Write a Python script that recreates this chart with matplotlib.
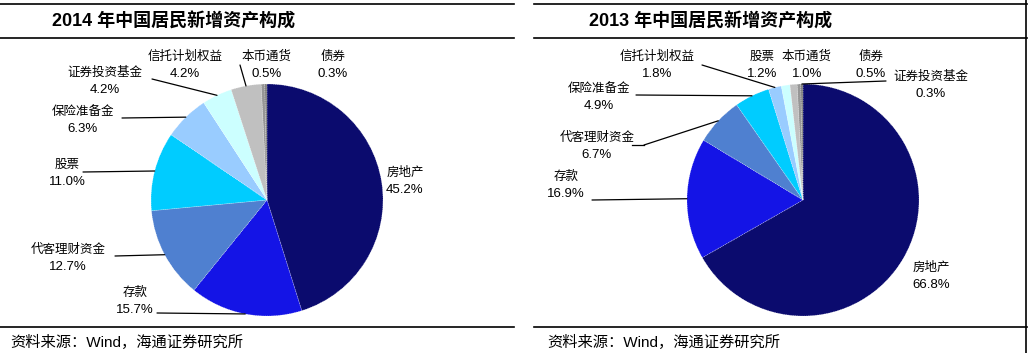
import numpy as np
import matplotlib
matplotlib.use("Agg")
import matplotlib.pyplot as plt
from matplotlib.lines import Line2D

plt.rcParams['font.family'] = ['Liberation Sans', 'Noto Sans CJK SC']

# ============================================================
# DATA
# ============================================================

names_2014 = ["房地产", "存款", "代客理财资金", "股票", "保险准备金",
              "证券投资基金", "信托计划权益", "本币通货", "债券"]
values_2014 = [45.2, 15.7, 12.7, 11.0, 6.3, 4.2, 4.2, 0.5, 0.3]

names_2013 = ["房地产", "存款", "代客理财资金", "保险准备金", "信托计划权益",
              "股票", "本币通货", "债券", "证券投资基金"]
values_2013 = [66.8, 16.9, 6.7, 4.9, 1.8, 1.2, 1.0, 0.5, 0.3]

titles = ["2014 年中国居民新增资产构成", "2013 年中国居民新增资产构成"]
source = "资料来源：Wind，海通证券研究所"

# ============================================================
# LAYOUT (pixels, origin top-left)
# ============================================================

W, H = 1028, 353
R = 116
colors = ["#0b0b6e", "#1414e6", "#4f80d0", "#00ccff", "#99ccff",
          "#ccffff", "#c0c0c0", "#969696", "#7f7f7f"]

label_pos_2014 = {
    "房地产": (405, 173), "存款": (135, 293), "代客理财资金": (68, 250),
    "股票": (67, 165), "保险准备金": (83, 112), "证券投资基金": (105, 73),
    "信托计划权益": (185, 57), "本币通货": (267, 57), "债券": (333, 57),
}
leader_2014 = {
    "证券投资基金": [(152, 79)], "保险准备金": [(122, 118)], "股票": [(83, 172)],
    "代客理财资金": [(115, 256)], "存款": [(157, 313)], "信托计划权益": [(240, 65)],
}

label_pos_2013 = {
    "房地产": (931, 268), "存款": (566, 177), "代客理财资金": (597, 138),
    "保险准备金": (599, 89), "信托计划权益": (657, 57), "股票": (762, 57),
    "本币通货": (807, 57), "债券": (871, 57), "证券投资基金": (931, 77),
}
leader_2013 = {
    "信托计划权益": [(702, 65)], "保险准备金": [(636, 95)],
    "代客理财资金": [(632, 145), (644, 145)], "存款": [(592, 200)],
    "证券投资基金": [(886, 81)],
}

panels = [
    dict(names=names_2014, values=values_2014, center=(267, 200),
         labels=label_pos_2014, leaders=leader_2014, x0=0, x1=514,
         title_x=52, src_x=10),
    dict(names=names_2013, values=values_2013, center=(803, 200),
         labels=label_pos_2013, leaders=leader_2013, x0=534, x1=1027,
         title_x=589, src_x=547),
]


def fx(x):
    return x / W


def fy(y):
    return 1 - y / H


fig = plt.figure(figsize=(W / 100, H / 100), dpi=100)

for i, p in enumerate(panels):
    cx, cy = p["center"]
    ax = fig.add_axes([fx(cx - R), fy(cy + R), 2 * R / W, 2 * R / H])
    wedges, _ = ax.pie(p["values"], colors=colors, startangle=90,
                       counterclock=False, radius=1,
                       wedgeprops=dict(edgecolor=(1, 1, 1, 0.6), linewidth=0.5,
                                       linestyle=":"))
    ax.set_xlim(-1, 1)
    ax.set_ylim(-1, 1)
    ax.set_aspect("auto")
    ax.axis("off")

    for name, val, w in zip(p["names"], p["values"], wedges):
        lx, ly = p["labels"][name]
        fig.text(fx(lx), fy(ly), name, ha="center", va="center", fontsize=9)
        fig.text(fx(lx), fy(ly + 17), f"{val:.1f}%", ha="center", va="center",
                 fontsize=9.5)
        if name in p["leaders"]:
            pts = p["leaders"][name]
            # leader ends on the wedge rim at its mid angle
            mid = np.deg2rad((w.theta1 + w.theta2) / 2)
            ax.annotate("", xy=(np.cos(mid), np.sin(mid)), xycoords="data",
                        xytext=(fx(pts[-1][0]), fy(pts[-1][1])),
                        textcoords="figure fraction",
                        arrowprops=dict(arrowstyle="-", color="black", lw=0.9,
                                        shrinkA=0, shrinkB=0))
            if len(pts) > 1:
                fig.add_artist(Line2D([fx(q[0]) for q in pts],
                                      [fy(q[1]) for q in pts],
                                      color="black", lw=0.9))

    # frame lines
    for yl in (4, 38, 327):
        fig.add_artist(Line2D([fx(p["x0"]), fx(p["x1"])], [fy(yl), fy(yl)],
                              color="black", lw=1.2))
    fig.text(fx(p["title_x"]), fy(22), titles[i], ha="left",
             va="center", fontsize=13, fontweight="bold")
    fig.text(fx(p["src_x"]), fy(342), source, ha="left", va="center",
             fontsize=11)

fig.add_artist(Line2D([fx(1026), fx(1026)], [0, 1], color="black", lw=1.2))

fig.savefig("out.png", dpi=100)
